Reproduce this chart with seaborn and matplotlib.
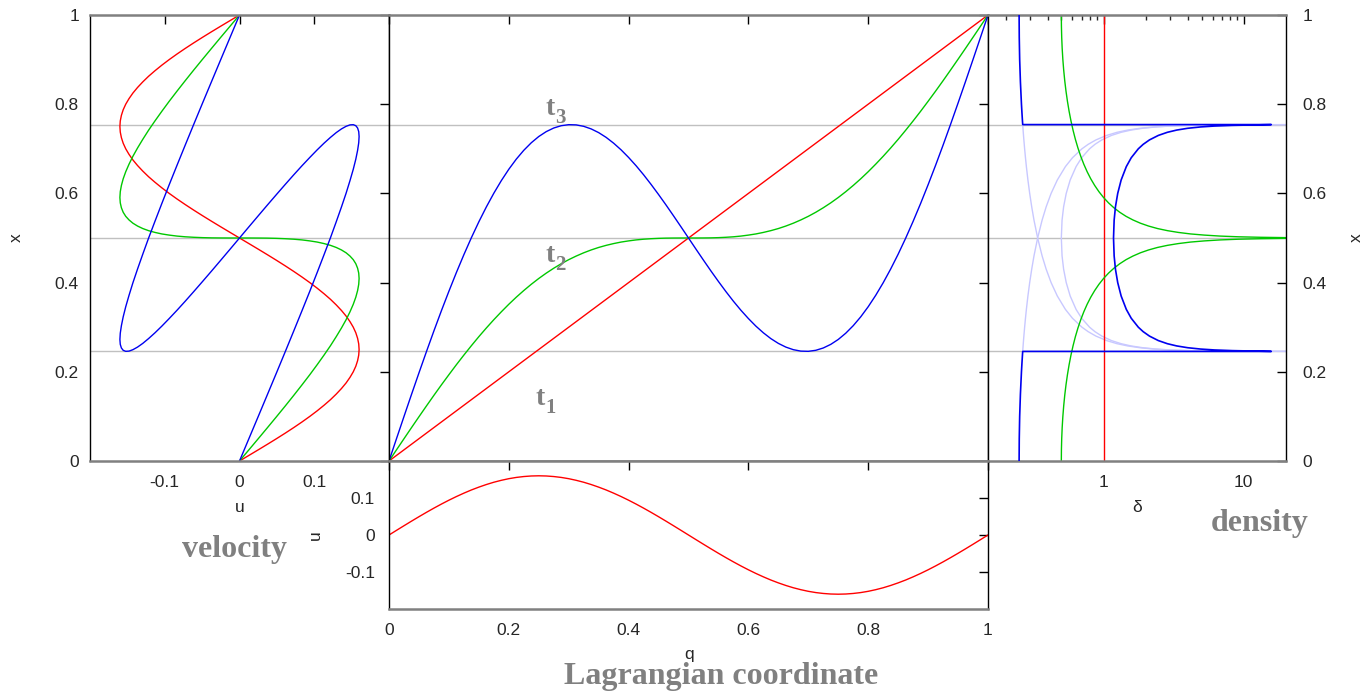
import numpy as np
import pandas as pd
import matplotlib
matplotlib.use("Agg")
import matplotlib.pyplot as plt
import seaborn as sns
from matplotlib.ticker import FixedLocator, NullFormatter

# ---------------- data ----------------
# Lagrangian coordinate grid
q_grid = [0, 0.0125, 0.025, 0.0375, 0.05, 0.0625, 0.075, 0.0875, 0.1, 0.1125,
          0.125, 0.1375, 0.15, 0.1625, 0.175, 0.1875, 0.2, 0.2125, 0.225, 0.2375,
          0.25, 0.2625, 0.275, 0.2875, 0.3, 0.3125, 0.325, 0.3375, 0.35, 0.3625,
          0.375, 0.3875, 0.4, 0.4125, 0.425, 0.4375, 0.45, 0.4625, 0.475, 0.4875,
          0.5, 0.5125, 0.525, 0.5375, 0.55, 0.5625, 0.575, 0.5875, 0.6, 0.6125,
          0.625, 0.6375, 0.65, 0.6625, 0.675, 0.6875, 0.7, 0.7125, 0.725, 0.7375,
          0.75, 0.7625, 0.775, 0.7875, 0.8, 0.8125, 0.825, 0.8375, 0.85, 0.8625,
          0.875, 0.8875, 0.9, 0.9125, 0.925, 0.9375, 0.95, 0.9625, 0.975, 0.9875, 1]

# velocity u(q)
u_vel = [0, 0.01255, 0.02503, 0.03735, 0.04944, 0.06123, 0.07264, 0.0836, 0.09405, 0.1039,
         0.1131, 0.1217, 0.1294, 0.1364, 0.1426, 0.1478, 0.1522, 0.1556, 0.158, 0.1595,
         0.16, 0.1595, 0.158, 0.1556, 0.1522, 0.1478, 0.1426, 0.1364, 0.1294, 0.1217,
         0.1131, 0.1039, 0.09405, 0.0836, 0.07264, 0.06123, 0.04944, 0.03735, 0.02503, 0.01255,
         0, -0.01255, -0.02503, -0.03735, -0.04944, -0.06123, -0.07264, -0.0836, -0.09405, -0.1039,
         -0.1131, -0.1217, -0.1294, -0.1364, -0.1426, -0.1478, -0.1522, -0.1556, -0.158, -0.1595,
         -0.16, -0.1595, -0.158, -0.1556, -0.1522, -0.1478, -0.1426, -0.1364, -0.1294, -0.1217,
         -0.1131, -0.1039, -0.09405, -0.0836, -0.07264, -0.06123, -0.04944, -0.03735, -0.02503, -0.01255, 0]

# Eulerian position x(q) at t1, t2, t3
x_t1 = list(q_grid)
x_t2 = [0, 0.0250, 0.0499, 0.0747, 0.0992, 0.1234, 0.1473, 0.1707, 0.1935, 0.2159,
        0.2375, 0.2585, 0.2788, 0.2982, 0.3168, 0.3345, 0.3514, 0.3673, 0.3822, 0.3962,
        0.4092, 0.4212, 0.4322, 0.4423, 0.4514, 0.4595, 0.4668, 0.4732, 0.4788, 0.4835,
        0.4875, 0.4909, 0.4935, 0.4957, 0.4973, 0.4984, 0.4992, 0.4997, 0.4999, 0.5000,
        0.5, 0.5000, 0.5001, 0.5003, 0.5008, 0.5016, 0.5027, 0.5043, 0.5065, 0.5091,
        0.5125, 0.5165, 0.5212, 0.5268, 0.5332, 0.5405, 0.5486, 0.5577, 0.5678, 0.5788,
        0.5908, 0.6038, 0.6178, 0.6327, 0.6486, 0.6655, 0.6832, 0.7018, 0.7212, 0.7415,
        0.7625, 0.7841, 0.8065, 0.8293, 0.8527, 0.8766, 0.9008, 0.9253, 0.9501, 0.9750, 1]
x_t3 = [0, 0.0500, 0.0997, 0.1490, 0.1975, 0.2452, 0.2918, 0.3370, 0.3806, 0.4226,
        0.4626, 0.5006, 0.5363, 0.5696, 0.6004, 0.6286, 0.6541, 0.6768, 0.6966, 0.7135,
        0.7275, 0.7385, 0.7466, 0.7518, 0.7541, 0.7536, 0.7504, 0.7446, 0.7363, 0.7256,
        0.7126, 0.6976, 0.6806, 0.6620, 0.6418, 0.6202, 0.5975, 0.5740, 0.5497, 0.5250,
        0.5, 0.4750, 0.4503, 0.4260, 0.4025, 0.3798, 0.3582, 0.3380, 0.3194, 0.3024,
        0.2874, 0.2744, 0.2637, 0.2554, 0.2496, 0.2464, 0.2459, 0.2482, 0.2534, 0.2615,
        0.2725, 0.2865, 0.3034, 0.3232, 0.3459, 0.3714, 0.3996, 0.4304, 0.4637, 0.4994,
        0.5374, 0.5774, 0.6194, 0.6630, 0.7082, 0.7548, 0.8025, 0.8510, 0.9003, 0.9500, 1]

# density at t1 (uniform) and t2 (single stream, caustic at x=0.5)
dens_t1 = [1.0, 1.0]
dens_t1_x = [0.0, 1.0]
dens_t2 = [0.5, 0.5008, 0.5031, 0.507, 0.5125, 0.5198, 0.5288, 0.5398, 0.5528, 0.5681,
           0.5858, 0.6063, 0.6298, 0.6568, 0.6878, 0.7232, 0.7639, 0.8107, 0.8647, 0.9272,
           1, 1.085, 1.185, 1.305, 1.447, 1.62, 1.831, 2.094, 2.426, 2.853,
           3.414, 4.174, 5.236, 6.786, 9.175, 13.14, 20.43, 36.19, 81.22, 324.4,
           np.inf, 324.4, 81.22, 36.19, 20.43, 13.14, 9.175, 6.786, 5.236, 4.174,
           3.414, 2.853, 2.426, 2.094, 1.831, 1.62, 1.447, 1.305, 1.185, 1.085,
           1, 0.9272, 0.8647, 0.8107, 0.7639, 0.7232, 0.6878, 0.6568, 0.6298, 0.6063,
           0.5858, 0.5681, 0.5528, 0.5398, 0.5288, 0.5198, 0.5125, 0.507, 0.5031, 0.5008, 0.5]

# t3: caustic positions and multistream densities
caustic_levels = [0.2457, 0.5, 0.7543]
multi_x = [0.2458, 0.246, 0.2465, 0.2475, 0.249, 0.251, 0.254, 0.258, 0.263, 0.27,
           0.28, 0.29, 0.3, 0.32, 0.34, 0.37, 0.4, 0.43, 0.46, 0.5,
           0.54, 0.57, 0.6, 0.63, 0.66, 0.68, 0.7, 0.71, 0.72, 0.73,
           0.737, 0.742, 0.746, 0.749, 0.751, 0.7525, 0.7535, 0.754, 0.7542]
stream_a = [0.2652, 0.2652, 0.2653, 0.2654, 0.2657, 0.2659, 0.2663, 0.2669, 0.2676, 0.2687,
            0.2703, 0.272, 0.2737, 0.2775, 0.2817, 0.2889, 0.2974, 0.3074, 0.3192, 0.3389,
            0.3646, 0.3899, 0.4228, 0.468, 0.5344, 0.6006, 0.7016, 0.7768, 0.8834, 1.052,
            1.249, 1.486, 1.815, 2.282, 2.909, 3.978, 6.107, 10.68, 25]
stream_b = [25.08, 10.76, 6.191, 4.062, 2.993, 2.366, 1.9, 1.571, 1.336, 1.139,
            0.9729, 0.8682, 0.795, 0.6983, 0.6368, 0.5782, 0.5419, 0.5192, 0.506, 0.5,
            0.506, 0.5192, 0.5419, 0.5782, 0.6368, 0.6983, 0.795, 0.8682, 0.9729, 1.139,
            1.336, 1.571, 1.9, 2.366, 2.993, 4.062, 6.191, 10.76, 25.08]
stream_c = [25, 10.68, 6.107, 3.978, 2.909, 2.282, 1.815, 1.486, 1.249, 1.052,
            0.8834, 0.7768, 0.7016, 0.6006, 0.5344, 0.468, 0.4228, 0.3899, 0.3646, 0.3389,
            0.3192, 0.3074, 0.2974, 0.2889, 0.2817, 0.2775, 0.2737, 0.272, 0.2703, 0.2687,
            0.2676, 0.2669, 0.2663, 0.2659, 0.2657, 0.2654, 0.2653, 0.2652, 0.2652]
# total density at t3 (single-stream wings, caustic jumps, multistream sum)
total_x = [0, 0.05, 0.1, 0.15, 0.2, 0.22, 0.235, 0.2457, 0.2457,
           0.2475, 0.249, 0.251, 0.254, 0.258, 0.263, 0.27, 0.28, 0.29, 0.3,
           0.32, 0.34, 0.37, 0.4, 0.43, 0.46, 0.5, 0.54, 0.57, 0.6,
           0.63, 0.66, 0.68, 0.7, 0.71, 0.72, 0.73, 0.737, 0.742, 0.746,
           0.749, 0.751, 0.7525, 0.7543, 0.7543, 0.765, 0.78, 0.8, 0.85, 0.9, 0.95, 1]
total_d = [0.25, 0.2506, 0.2523, 0.2554, 0.2598, 0.262, 0.2638, 0.2652, 15.7,
           8.306, 6.168, 4.915, 3.982, 3.324, 2.852, 2.459, 2.127, 1.917, 1.77,
           1.576, 1.453, 1.335, 1.262, 1.216, 1.19, 1.178, 1.19, 1.216, 1.262,
           1.335, 1.453, 1.576, 1.77, 1.917, 2.127, 2.459, 2.852, 3.324, 3.982,
           4.915, 6.168, 8.306, 15.7, 0.2652, 0.2638, 0.262, 0.2598, 0.2554, 0.2523, 0.2506, 0.25]

for arr in (u_vel, x_t1, x_t2, x_t3, dens_t2):
    assert len(arr) == len(q_grid)
for arr in (stream_a, stream_b, stream_c):
    assert len(arr) == len(multi_x)
assert len(total_x) == len(total_d)

# ---------------- figure ----------------
W, H = 1365, 695
sns.set_style("white")
plt.rcParams["font.family"] = ["Liberation Sans", "DejaVu Sans"]
fig = plt.figure(figsize=(W / 100, H / 100), dpi=100)


def ax_at(x0, y0, x1_, y1_):
    return fig.add_axes([x0 / W, 1 - y1_ / H, (x1_ - x0) / W, (y1_ - y0) / H])


axL = ax_at(90, 15, 389, 461)
axM = ax_at(389, 15, 988, 461)
axR = ax_at(988, 15, 1286, 461)
axB = ax_at(389, 461, 988, 609)

RED, GREEN, BLUE, LAV, GRID = "#ff0000", "#00c800", "#0000f0", "#c8c8ff", "#c0c0c0"

for ax in (axL, axM, axR, axB):
    for side in ("left", "right"):
        ax.spines[side].set_color("black")
        ax.spines[side].set_linewidth(1.0)
    for side in ("top", "bottom"):
        ax.spines[side].set_color("#808080")
        ax.spines[side].set_linewidth(1.8)
    ax.tick_params(which="major", direction="in", length=6.5, width=1, top=True, right=True,
                   labelsize=12.5, color="black")
    ax.tick_params(which="minor", direction="in", length=3.5, width=1, top=True, right=True)

for ax in (axL, axM, axR):
    for yv in caustic_levels:
        ax.axhline(yv, color=GRID, lw=1, zorder=0)


def line(ax, df, xcol, ycol, color, lw=1.0, z=2):
    sns.lineplot(data=df, x=xcol, y=ycol, sort=False, estimator=None, color=color,
                 lw=lw, ax=ax, zorder=z)


lag = pd.DataFrame({"q": q_grid, "u": u_vel, "x1": x_t1, "x2": x_t2, "x3": x_t3, "d2": dens_t2})

# left: x vs velocity
line(axL, lag, "u", "x1", RED)
line(axL, lag, "u", "x2", GREEN)
line(axL, lag, "u", "x3", BLUE)
# middle: x vs q
line(axM, lag, "q", "x1", RED)
line(axM, lag, "q", "x2", GREEN)
line(axM, lag, "q", "x3", BLUE)
# bottom: u vs q
line(axB, lag, "q", "u", RED)

# right: density
axR.set_xscale("log")
line(axR, pd.DataFrame({"d": dens_t1, "x": dens_t1_x}), "d", "x", RED)
g2 = lag[np.isfinite(lag["d2"])]
line(axR, g2, "d2", "x2", GREEN)
streams = pd.DataFrame({"x": multi_x, "a": stream_a, "b": stream_b, "c": stream_c})
for col in ("a", "b", "c"):
    line(axR, streams, col, "x", LAV, z=1)
line(axR, pd.DataFrame({"d": total_d, "x": total_x}), "d", "x", BLUE, lw=1.2, z=3)

# limits and ticks
axL.set_xlim(-0.2, 0.2); axL.set_ylim(0, 1)
axM.set_xlim(0, 1); axM.set_ylim(0, 1)
axR.set_xlim(0.15, 20); axR.set_ylim(0, 1)
axB.set_xlim(0, 1); axB.set_ylim(-0.2, 0.2)
yt = [0, 0.2, 0.4, 0.6, 0.8, 1]
ytl = ["0", "0.2", "0.4", "0.6", "0.8", "1"]
axL.set_yticks(yt, ytl)
axL.set_xticks([-0.1, 0, 0.1], ["-0.1", "0", "0.1"])
axL.tick_params(axis="y", pad=8)
axL.tick_params(axis="x", pad=10)
axM.set_xticks(yt, [""] * 6)
axM.set_yticks(yt, [""] * 6)
axR.set_yticks(yt, ytl)
axR.tick_params(axis="y", labelleft=False, labelright=True, pad=12)
axR.xaxis.set_major_locator(FixedLocator([1, 10]))
axR.set_xticklabels(["1", "10"])
axR.xaxis.set_minor_locator(FixedLocator([0.2, 0.3, 0.4, 0.5, 0.6, 0.7, 0.8, 0.9,
                                          2, 3, 4, 5, 6, 7, 8, 9]))
axR.xaxis.set_minor_formatter(NullFormatter())
axR.tick_params(axis="x", pad=10)
axB.set_xticks(yt, ytl)
axB.set_yticks([-0.1, 0, 0.1], ["-0.1", "0", "0.1"])
axB.tick_params(axis="x", pad=10)
axB.tick_params(axis="y", pad=10)
for ax in (axL, axM, axR, axB):
    ax.set_xlabel("")
    ax.set_ylabel("")


def px(xp, yp):
    return xp / W, 1 - yp / H


fig.text(*px(16, 238), "x", rotation=90, ha="center", va="center", fontsize=12.5)
fig.text(*px(1356, 238), "x", rotation=90, ha="center", va="center", fontsize=12.5)
fig.text(*px(240, 508), "u", ha="center", va="center", fontsize=12.5)
fig.text(*px(1137, 507), "δ", ha="center", va="center", fontsize=12.5)
fig.text(*px(315, 535), "u", rotation=90, ha="center", va="center", fontsize=12.5)
fig.text(*px(689, 655), "q", ha="center", va="center", fontsize=12.5)

serif = ["Liberation Serif", "DejaVu Serif"]
GRAY = "#808080"
fig.text(*px(234.5, 557), "velocity", ha="center", va="baseline", fontsize=23,
         fontweight="bold", family=serif, color=GRAY)
fig.text(*px(1259.5, 531), "density", ha="center", va="baseline", fontsize=23,
         fontweight="bold", family=serif, color=GRAY)
fig.text(*px(721, 684), "Lagrangian coordinate", ha="center", va="baseline", fontsize=23,
         fontweight="bold", family=serif, color=GRAY)
t_labels = [("t", "3"), ("t", "2"), ("t", "1")]
t_pos = [(545, 115), (545, 262), (535, 405)]
for (t, sub), (tx, ty) in zip(t_labels, t_pos):
    fig.text(*px(tx, ty), t, ha="left", va="baseline", fontsize=20, fontweight="bold",
             family=serif, color=GRAY)
    fig.text(*px(tx + 10, ty + 8), sub, ha="left", va="baseline", fontsize=15,
             fontweight="bold", family=serif, color=GRAY)

fig.savefig("out.png", dpi=100)
